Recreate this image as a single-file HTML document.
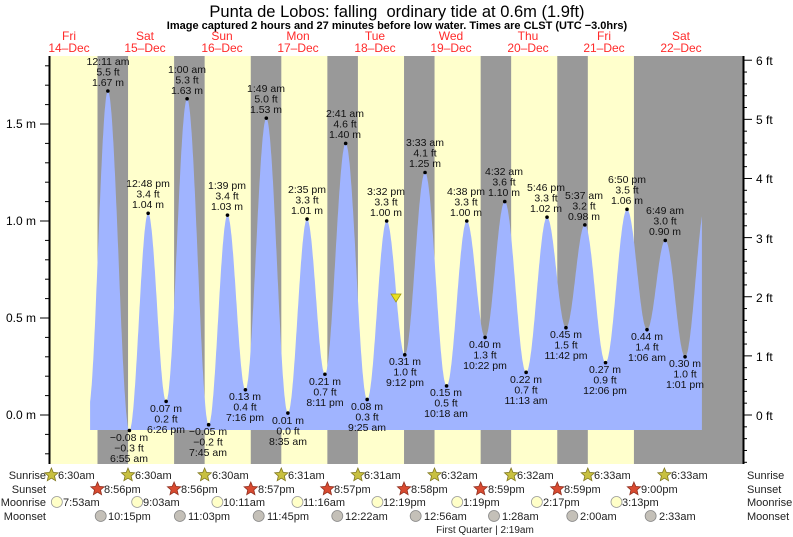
<!DOCTYPE html>
<html><head><meta charset="utf-8"><style>
html,body{margin:0;padding:0;background:#fff;}
svg{display:block;font-family:"Liberation Sans",sans-serif;}
</style></head><body>
<svg id="s" width="793" height="537" viewBox="0 0 793 537" xmlns="http://www.w3.org/2000/svg">
<rect x="49" y="56" width="694" height="408" fill="#ffffcc"/>
<g id="night" fill="#999999"></g>
<path id="tide" fill="#a0b4ff" d=""/>
<g id="ticks" stroke="#000" stroke-width="1"></g>
<line x1="49.5" y1="56" x2="49.5" y2="464" stroke="#000" stroke-width="2"/>
<line x1="743.5" y1="56" x2="743.5" y2="464" stroke="#000" stroke-width="2"/>
<text x="397" y="17" font-size="16.5" text-anchor="middle">Punta de Lobos: falling&#160; ordinary tide at 0.6m (1.9ft)</text>
<text x="397" y="29" font-size="11" font-weight="bold" text-anchor="middle">Image captured 2 hours and 27 minutes before low water. Times are CLST (UTC −3.0hrs)</text>
<g font-size="12" fill="#ff2a2a" text-anchor="middle">
<text x="69" y="40">Fri</text><text x="69" y="52">14–Dec</text>
<text x="145" y="40">Sat</text><text x="145" y="52">15–Dec</text>
<text x="222" y="40">Sun</text><text x="222" y="52">16–Dec</text>
<text x="298" y="40">Mon</text><text x="298" y="52">17–Dec</text>
<text x="375" y="40">Tue</text><text x="375" y="52">18–Dec</text>
<text x="451" y="40">Wed</text><text x="451" y="52">19–Dec</text>
<text x="528" y="40">Thu</text><text x="528" y="52">20–Dec</text>
<text x="604" y="40">Fri</text><text x="604" y="52">21–Dec</text>
<text x="681" y="40">Sat</text><text x="681" y="52">22–Dec</text>
</g>
<g font-size="12" text-anchor="end">
<text x="36" y="419">0.0 m</text><text x="36" y="322">0.5 m</text><text x="36" y="225">1.0 m</text><text x="36" y="128">1.5 m</text>
</g>
<g font-size="12">
<text x="756" y="420">0 ft</text><text x="756" y="361">1 ft</text><text x="756" y="302">2 ft</text><text x="756" y="243">3 ft</text><text x="756" y="183">4 ft</text><text x="756" y="124">5 ft</text><text x="756" y="65">6 ft</text>
</g>
<g id="dots" fill="#000"></g>
<g font-size="10.5" text-anchor="middle" fill="#111">
<text x="108" y="65">12:11 am</text><text x="108" y="75.5">5.5 ft</text><text x="108" y="86">1.67 m</text>
<text x="148" y="187">12:48 pm</text><text x="148" y="197.5">3.4 ft</text><text x="148" y="208">1.04 m</text>
<text x="187" y="73">1:00 am</text><text x="187" y="83.5">5.3 ft</text><text x="187" y="94">1.63 m</text>
<text x="227" y="189">1:39 pm</text><text x="227" y="199.5">3.4 ft</text><text x="227" y="210">1.03 m</text>
<text x="266" y="92">1:49 am</text><text x="266" y="102.5">5.0 ft</text><text x="266" y="113">1.53 m</text>
<text x="307" y="193">2:35 pm</text><text x="307" y="203.5">3.3 ft</text><text x="307" y="214">1.01 m</text>
<text x="345" y="117">2:41 am</text><text x="345" y="127.5">4.6 ft</text><text x="345" y="138">1.40 m</text>
<text x="386" y="195">3:32 pm</text><text x="386" y="205.5">3.3 ft</text><text x="386" y="216">1.00 m</text>
<text x="425" y="146">3:33 am</text><text x="425" y="156.5">4.1 ft</text><text x="425" y="167">1.25 m</text>
<text x="466" y="195">4:38 pm</text><text x="466" y="205.5">3.3 ft</text><text x="466" y="216">1.00 m</text>
<text x="504" y="175">4:32 am</text><text x="504" y="185.5">3.6 ft</text><text x="504" y="196">1.10 m</text>
<text x="546" y="191">5:46 pm</text><text x="546" y="201.5">3.3 ft</text><text x="546" y="212">1.02 m</text>
<text x="584" y="199">5:37 am</text><text x="584" y="209.5">3.2 ft</text><text x="584" y="220">0.98 m</text>
<text x="627" y="183">6:50 pm</text><text x="627" y="193.5">3.5 ft</text><text x="627" y="204">1.06 m</text>
<text x="665" y="214">6:49 am</text><text x="665" y="224.5">3.0 ft</text><text x="665" y="235">0.90 m</text>
<text x="129" y="441">−0.08 m</text><text x="129" y="451.5">−0.3 ft</text><text x="129" y="462">6:55 am</text>
<text x="166" y="412">0.07 m</text><text x="166" y="422.5">0.2 ft</text><text x="166" y="433">6:26 pm</text>
<text x="208" y="435">−0.05 m</text><text x="208" y="445.5">−0.2 ft</text><text x="208" y="456">7:45 am</text>
<text x="245" y="400">0.13 m</text><text x="245" y="410.5">0.4 ft</text><text x="245" y="421">7:16 pm</text>
<text x="288" y="424">0.01 m</text><text x="288" y="434.5">0.0 ft</text><text x="288" y="445">8:35 am</text>
<text x="325" y="385">0.21 m</text><text x="325" y="395.5">0.7 ft</text><text x="325" y="406">8:11 pm</text>
<text x="367" y="410">0.08 m</text><text x="367" y="420.5">0.3 ft</text><text x="367" y="431">9:25 am</text>
<text x="405" y="365">0.31 m</text><text x="405" y="375.5">1.0 ft</text><text x="405" y="386">9:12 pm</text>
<text x="446" y="396">0.15 m</text><text x="446" y="406.5">0.5 ft</text><text x="446" y="417">10:18 am</text>
<text x="485" y="348">0.40 m</text><text x="485" y="358.5">1.3 ft</text><text x="485" y="369">10:22 pm</text>
<text x="526" y="383">0.22 m</text><text x="526" y="393.5">0.7 ft</text><text x="526" y="404">11:13 am</text>
<text x="566" y="338">0.45 m</text><text x="566" y="348.5">1.5 ft</text><text x="566" y="359">11:42 pm</text>
<text x="605" y="373">0.27 m</text><text x="605" y="383.5">0.9 ft</text><text x="605" y="394">12:06 pm</text>
<text x="647" y="340">0.44 m</text><text x="647" y="350.5">1.4 ft</text><text x="647" y="361">1:06 am</text>
<text x="685" y="367">0.30 m</text><text x="685" y="377.5">1.0 ft</text><text x="685" y="388">1:01 pm</text>
</g>
<polygon points="391,294 401,294 396,302" fill="#e8e020" stroke="#a09810" stroke-width="0.8"/>
<g id="icons"></g>
<g font-size="11" fill="#222">
<text x="46" y="479" text-anchor="end">Sunrise</text>
<text x="46" y="493" text-anchor="end">Sunset</text>
<text x="46" y="506" text-anchor="end">Moonrise</text>
<text x="46" y="520" text-anchor="end">Moonset</text>
<text x="747" y="479">Sunrise</text>
<text x="747" y="493">Sunset</text>
<text x="747" y="506">Moonrise</text>
<text x="747" y="520">Moonset</text>
<text x="58" y="479">6:30am</text><text x="135" y="479">6:30am</text><text x="212" y="479">6:30am</text><text x="288" y="479">6:31am</text><text x="364" y="479">6:31am</text><text x="441" y="479">6:32am</text><text x="517" y="479">6:32am</text><text x="594" y="479">6:33am</text><text x="671" y="479">6:33am</text>
<text x="104" y="493">8:56pm</text><text x="181" y="493">8:56pm</text><text x="258" y="493">8:57pm</text><text x="334" y="493">8:57pm</text><text x="411" y="493">8:58pm</text><text x="488" y="493">8:59pm</text><text x="564" y="493">8:59pm</text><text x="641" y="493">9:00pm</text>
<text x="63" y="506">7:53am</text><text x="143" y="506">9:03am</text><text x="223" y="506">10:11am</text><text x="303" y="506">11:16am</text><text x="383" y="506">12:19pm</text><text x="463" y="506">1:19pm</text><text x="543" y="506">2:17pm</text><text x="622" y="506">3:13pm</text>
<text x="108" y="520">10:15pm</text><text x="188" y="520">11:03pm</text><text x="267" y="520">11:45pm</text><text x="345" y="520">12:22am</text><text x="424" y="520">12:56am</text><text x="502" y="520">1:28am</text><text x="580" y="520">2:00am</text><text x="659" y="520">2:33am</text>
<text x="485" y="533" text-anchor="middle" font-size="10">First Quarter | 2:19am</text>
</g>
</svg>
<script>
(function(){
var NS="http://www.w3.org/2000/svg";
function X(t){return 30.7+3.1917*t;}
function Y(h){return 415-194*h;}
function el(p,n,a){var e=document.createElementNS(NS,n);for(var k in a)e.setAttribute(k,a[k]);p.appendChild(e);return e;}
var ng=document.getElementById('night');
var ss=[20.93,44.93,68.95,92.95,116.97,140.98,164.98,189];
var sr=[30.5,54.5,78.52,102.52,126.53,150.53,174.55,300];
for(var i=0;i<ss.length;i++){var a=X(ss[i]),b=Math.min(743,X(sr[i]));el(ng,'rect',{x:a,y:56,width:b-a,height:408});}
var E=[[18,0.03],[24.18,1.67],[30.92,-0.08],[36.8,1.04],[42.43,0.07],[49,1.63],[55.75,-0.05],[61.65,1.03],[67.27,0.13],[73.82,1.53],[80.58,0.01],[86.58,1.01],[92.18,0.21],[98.68,1.40],[105.42,0.08],[111.53,1.00],[117.2,0.31],[123.55,1.25],[130.3,0.15],[136.63,1.00],[142.37,0.40],[148.53,1.10],[155.22,0.22],[161.77,1.02],[167.7,0.45],[173.62,0.98],[180.1,0.27],[186.83,1.06],[193.1,0.44],[198.82,0.90],[205.02,0.30],[211.6,1.10]];
function h(t){for(var i=0;i<E.length-1;i++){if(t>=E[i][0]&&t<=E[i+1][0]){var f=(t-E[i][0])/(E[i+1][0]-E[i][0]);return E[i][1]+(E[i+1][1]-E[i][1])*(1-Math.cos(Math.PI*f))/2;}}return 0;}
var t0=18.6,t1=210.3,d="M"+X(t0).toFixed(1)+",430";
for(var t=t0;t<=t1;t+=0.1){d+="L"+X(t).toFixed(1)+","+Y(h(t)).toFixed(1);}
d+="L"+X(t1).toFixed(1)+","+Y(h(t1)).toFixed(1)+"L"+X(t1).toFixed(1)+",430Z";
document.getElementById('tide').setAttribute('d',d);
var dg=document.getElementById('dots');
for(var i=1;i<E.length-1;i++)el(dg,'circle',{cx:X(E[i][0]),cy:Y(E[i][1]),r:1.8});
var tg=document.getElementById('ticks');
for(var m=-0.2;m<=1.85;m+=0.1){var y=Y(m);if(y<56||y>464)continue;var maj=Math.abs(Math.round(m*10)%5)==0;el(tg,'line',{x1:maj?40:45,x2:49,y1:y,y2:y});}
for(var f=-0.8;f<=6.01;f+=0.2){var y=415-59.13*f;if(y<56||y>464)continue;var maj=Math.abs(f-Math.round(f))<0.01;el(tg,'line',{x1:743,x2:maj?752:747,y1:y,y2:y});}
var ig=document.getElementById('icons');
function star(cx,cy,fill,st){var p="";for(var k=0;k<10;k++){var r=k%2?3.2:7,a=-Math.PI/2+k*Math.PI/5;p+=(cx+r*Math.cos(a)).toFixed(1)+","+(cy+r*Math.sin(a)).toFixed(1)+" ";}el(ig,'polygon',{points:p,fill:fill,stroke:st,'stroke-width':0.8});}
[6.5,30.5,54.5,78.52,102.52,126.53,150.53,174.55,198.55].forEach(function(t){star(X(t),475,'#c8c040','#807820');});
ss.forEach(function(t){star(X(t),489,'#d84a30','#903020');});
[7.88,33.05,58.18,83.27,108.32,133.32,158.28,183.22].forEach(function(t){el(ig,'circle',{cx:X(t)+1,cy:502,r:5.5,fill:'#ffffc8',stroke:'#999','stroke-width':0.8});});
[22.25,47.05,71.75,96.37,120.93,145.47,170,194.55].forEach(function(t){el(ig,'circle',{cx:X(t)-1,cy:516,r:5.5,fill:'#c4c0b8',stroke:'#888','stroke-width':0.8});});
})();
</script>
</body></html>
